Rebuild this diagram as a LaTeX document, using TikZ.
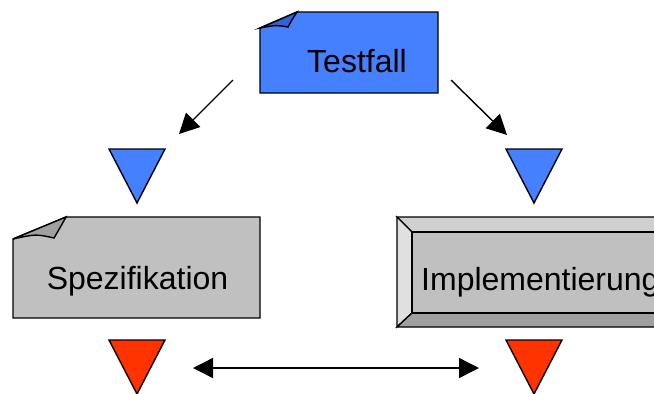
\documentclass[tikz,border=0pt]{standalone}
\usepackage{fontspec}
\setmainfont{Liberation Sans}
\usetikzlibrary{arrows.meta}
\definecolor{boxblue}{HTML}{4580FF}
\definecolor{foldblue}{HTML}{2F62D6}
\definecolor{boxgray}{HTML}{C0C0C0}
\definecolor{foldgray}{HTML}{A0A0A0}
\definecolor{bevellight}{HTML}{E0E0E0}
\definecolor{beveltop}{HTML}{D0D0D0}
\definecolor{beveldark}{HTML}{A0A0A0}
\definecolor{markred}{HTML}{FF3300}
\tikzset{
  outline/.style={draw=black,line width=1.4pt,line join=miter},
  caption/.style={font=\fontsize{32}{32}\selectfont,anchor=base,inner sep=0pt},
  flow/.style={line width=1.4pt,-{Triangle[length=20pt,width=20pt]}},
  twoway/.style={line width=1.4pt,{Triangle[length=20pt,width=20pt]}-{Triangle[length=20pt,width=20pt]}},
  pics/marker/.style={code={\path[outline,fill=#1] (-28,0) -- (28,0) -- (0,54) -- cycle;}}
}
\begin{document}
\begin{tikzpicture}[x=1pt,y=-1pt]
\clip (0,0) rectangle (654,394);

% Testfall: document with a curled corner
\path[outline,fill=boxblue] (260,28) -- (297,12) -- (438,12) -- (438,93) -- (260,93) -- cycle;
\path[outline,fill=foldblue] (260,28) -- (297,12) .. controls (293,18) .. (288,27) .. controls (276,25) .. (260,28) -- cycle;
\node[caption] (testfall) at (357,72) {Testfall};

% Spezifikation: document with a curled corner
\path[outline,fill=boxgray] (13,239) -- (66,217) -- (260,217) -- (260,318) -- (13,318) -- cycle;
\path[outline,fill=foldgray] (13,239) -- (66,217) .. controls (61,226) .. (54,238) .. controls (36,234) .. (13,239) -- cycle;
\node[caption] (spez) at (137.5,289) {Spezifikation};

% Implementierung: bevelled button
\path[outline,fill=beveltop] (397,217) -- (710,217) -- (695,232) -- (412,232) -- cycle;
\path[outline,fill=bevellight] (397,217) -- (412,232) -- (412,313) -- (397,327) -- cycle;
\path[outline,fill=beveldark] (397,327) -- (412,313) -- (695,313) -- (710,327) -- cycle;
\path[outline,fill=boxgray] (412,232) rectangle (695,313);
\node[caption,anchor=base west] (impl) at (421,290) {Implementierung};

% triangle markers
\pic at (137,149) {marker=boxblue};
\pic at (534,149) {marker=boxblue};
\pic at (137,340) {marker=markred};
\pic at (534,340) {marker=markred};

% connectors
\coordinate (l0) at (233,80);
\coordinate (l1) at (179,134);
\coordinate (r0) at (451,80);
\coordinate (r1) at (507,135);
\coordinate (b0) at (193,368);
\coordinate (b1) at (479,368);
\draw[flow] (l0) -- (l1);
\draw[flow] (r0) -- (r1);
\draw[twoway] (b0) -- (b1);
\end{tikzpicture}
\end{document}
